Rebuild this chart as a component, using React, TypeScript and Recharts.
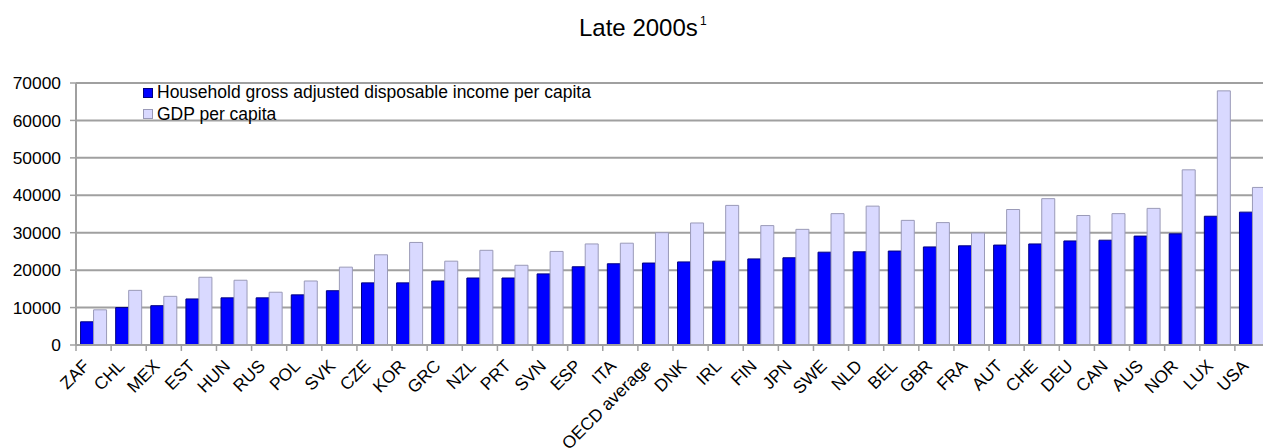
import { Bar, BarChart, CartesianGrid, Legend, XAxis, YAxis } from 'recharts';

const categories = [
  'ZAF', 'CHL', 'MEX', 'EST', 'HUN', 'RUS', 'POL', 'SVK', 'CZE', 'KOR', 'GRC', 'NZL',
  'PRT', 'SVN', 'ESP', 'ITA', 'OECD average', 'DNK', 'IRL', 'FIN', 'JPN', 'SWE', 'NLD',
  'BEL', 'GBR', 'FRA', 'AUT', 'CHE', 'DEU', 'CAN', 'AUS', 'NOR', 'LUX', 'USA',
];

const householdIncome = [
  6200, 10000, 10500, 12300, 12600, 12600, 13400, 14500, 16600, 16600, 17100, 17900,
  17900, 19000, 20900, 21700, 21900, 22200, 22400, 23000, 23300, 24800, 24900,
  25100, 26200, 26500, 26700, 27000, 27800, 28000, 29100, 29700, 34400, 35500,
];

const gdpPerCapita = [
  9400, 14600, 13000, 18100, 17300, 14100, 17100, 20800, 24100, 27400, 22400, 25300,
  21300, 25000, 27000, 27200, 30000, 32600, 37300, 31900, 30900, 35100, 37100,
  33300, 32700, 29900, 36200, 39100, 34600, 35100, 36500, 46800, 67900, 42100,
];

const yTicks = [0, 10000, 20000, 30000, 40000, 50000, 60000, 70000];

const seriesNames = ['Household gross adjusted disposable income per capita', 'GDP per capita'];

const data = categories.map((name, i) => ({
  name,
  income: householdIncome[i],
  gdp: gdpPerCapita[i],
}));

const FONT = '"Liberation Sans", Arial, sans-serif';
const GRID = '#A0A0A0';
const CHART_W = 1290;
const Y_AXIS_W = 76;
const RIGHT = 20;
const band = (CHART_W - Y_AXIS_W - RIGHT) / categories.length;

function CategoryTick(props: any) {
  const { x, y, payload } = props;
  const bx = x - band / 2;
  return (
    <g>
      <line x1={bx} y1={y - 8} x2={bx} y2={y - 2} stroke={GRID} strokeWidth={1.5} />
      <g transform={`translate(${x - 3},${y + 14})`}>
        <text transform="rotate(-45)" textAnchor="end" fontSize={17.4} fontFamily={FONT} fill="#000">
          {payload.value}
        </text>
      </g>
    </g>
  );
}

function ChartLegend() {
  const swatches = [
    { fill: '#0000FF', stroke: '#000080' },
    { fill: '#D9D9FF', stroke: '#9A9AB8' },
  ];
  return (
    <div style={{ fontFamily: FONT, fontSize: 17.5, color: '#000' }}>
      {seriesNames.map((name, i) => (
        <div key={name} style={{ display: 'flex', alignItems: 'center', height: 21.5, whiteSpace: 'nowrap' }}>
          <span
            style={{
              display: 'inline-block',
              width: 8,
              height: 8,
              background: swatches[i].fill,
              border: `1px solid ${swatches[i].stroke}`,
              marginRight: 4,
            }}
          />
          {name}
        </div>
      ))}
    </div>
  );
}

export default function App() {
  return (
    <div
      style={{
        position: 'absolute',
        left: 0,
        top: 0,
        width: 1263,
        height: 448,
        overflow: 'hidden',
        background: '#fff',
        fontFamily: FONT,
      }}
    >
      <div style={{ position: 'absolute', left: 579, top: 16, fontSize: 24, lineHeight: 1, whiteSpace: 'nowrap' }}>
        Late 2000s
        <span style={{ position: 'absolute', left: 121, top: -1, fontSize: 12 }}>1</span>
      </div>
      <BarChart
        width={CHART_W}
        height={448}
        data={data}
        margin={{ top: 83, right: RIGHT, left: 0, bottom: 0 }}
        barCategoryGap="13%"
        barGap={0}
      >
        <CartesianGrid vertical={false} stroke={GRID} strokeWidth={2} />
        <XAxis
          dataKey="name"
          interval={0}
          height={103}
          tick={<CategoryTick />}
          tickLine={false}
          axisLine={{ stroke: GRID, strokeWidth: 2 }}
        />
        <YAxis
          width={Y_AXIS_W}
          domain={[0, 70000]}
          ticks={yTicks}
          interval={0}
          tickSize={6}
          tickMargin={9}
          tick={{ fontSize: 17.4, fontFamily: FONT, fill: '#000' }}
          tickLine={{ stroke: GRID, strokeWidth: 1.5 }}
          axisLine={{ stroke: GRID, strokeWidth: 2 }}
        />
        <Legend
          layout="horizontal"
          verticalAlign="middle"
          align="center"
          wrapperStyle={{ left: 143, top: 82, width: 'auto' }}
          content={() => <ChartLegend />}
        />
        <Bar dataKey="income" name={seriesNames[0]} fill="#0000FF" stroke="#000080" strokeWidth={1} isAnimationActive={false} />
        <Bar dataKey="gdp" name={seriesNames[1]} fill="#D9D9FF" stroke="#9A9AB8" strokeWidth={1} isAnimationActive={false} />
      </BarChart>
    </div>
  );
}
